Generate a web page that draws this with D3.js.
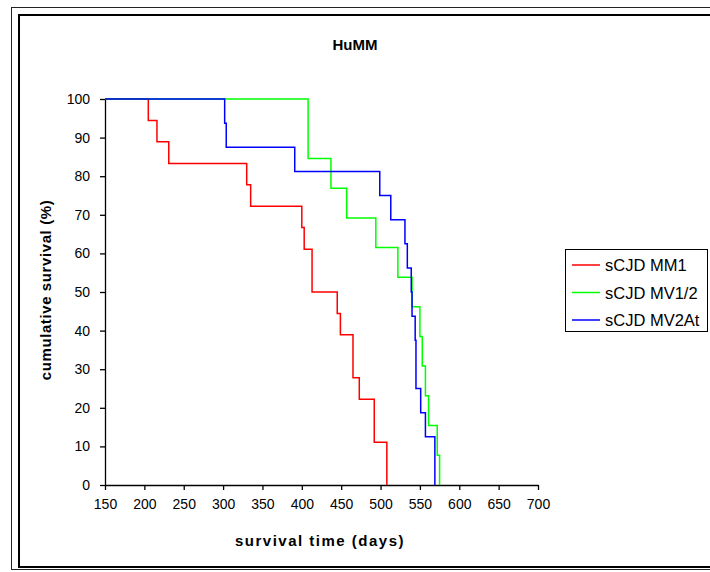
<!DOCTYPE html>
<html>
<head>
<meta charset="utf-8">
<script src="https://cdn.jsdelivr.net/npm/d3@7"></script>
<style>
  body { margin: 0; background: #fff; }
  svg text { font-family: "Liberation Sans", Arial, sans-serif; fill: #000; }
</style>
</head>
<body>
<div id="chart"></div>
<script>
const width = 710;
const height = 572;

// Kaplan-Meier steps: [day, cumulative survival %]
const mm1 = [[150, 100], [205, 94.4], [216, 88.9], [231, 83.3], [330, 77.8], [335, 72.2],
  [400, 66.7], [403, 61.1], [413, 50.0], [445, 44.4], [449, 38.9], [465, 27.8],
  [473, 22.2], [492, 11.1], [508, 0]];
const mv12 = [[150, 100], [408, 84.6], [437, 76.9], [457, 69.2], [494, 61.5], [522, 53.8],
  [540, 46.2], [550, 38.5], [553, 30.8], [557, 23.1], [561, 15.4], [572, 7.7], [575, 0]];
const mv2at = [[150, 100], [302, 93.75], [304, 87.5], [391, 81.25], [499, 75], [513, 68.75],
  [531, 62.5], [534, 56.25], [539, 50], [540, 43.75], [544, 37.5], [545, 25],
  [551, 18.75], [557, 12.5], [569, 0]];

const seriesNames = ["sCJD MM1", "sCJD MV1/2", "sCJD MV2At"];
const seriesColors = ["#ff0000", "#00ff00", "#0000ff"];
const seriesData = [mm1, mv12, mv2at];

const xTicks = [150, 200, 250, 300, 350, 400, 450, 500, 550, 600, 650, 700];
const yTicks = [0, 10, 20, 30, 40, 50, 60, 70, 80, 90, 100];

const svg = d3.select("#chart")
    .append("svg")
    .attr("width", width)
    .attr("height", height);

// double frame
svg.append("rect")
    .attr("x", 11.5).attr("y", 7.5)
    .attr("width", 720).attr("height", 562)
    .attr("fill", "none").attr("stroke", "#222").attr("stroke-width", 1);
svg.append("rect")
    .attr("x", 19).attr("y", 15)
    .attr("width", 720).attr("height", 552)
    .attr("fill", "none").attr("stroke", "#000").attr("stroke-width", 2);

const x = d3.scaleLinear().domain([150, 700]).range([105, 538]);
const y = d3.scaleLinear().domain([0, 100]).range([485, 99]);

const xAxis = svg.append("g")
    .attr("transform", `translate(0,${y(0)})`)
    .call(d3.axisBottom(x).tickValues(xTicks).tickSize(5).tickSizeOuter(0).tickPadding(9));
const yAxis = svg.append("g")
    .attr("transform", `translate(${x(150)},0)`)
    .call(d3.axisLeft(y).tickValues(yTicks).tickSize(5).tickSizeOuter(0).tickPadding(10));

[xAxis, yAxis].forEach(g => {
    g.select(".domain").attr("stroke", "#000").attr("stroke-width", 1.3);
    g.selectAll(".tick line").attr("stroke", "#000").attr("stroke-width", 1.3);
    g.selectAll(".tick text")
        .attr("font-family", "Liberation Sans, Arial, sans-serif")
        .attr("font-size", 14)
        .attr("fill", "#000");
});

const line = d3.line()
    .x(d => x(d[0]))
    .y(d => y(d[1]))
    .curve(d3.curveStepAfter);

seriesData.forEach((data, i) => {
    svg.append("path")
        .datum(data)
        .attr("fill", "none")
        .attr("stroke", seriesColors[i])
        .attr("stroke-width", 1.5)
        .attr("d", line);
});

svg.append("text")
    .attr("x", 355).attr("y", 50)
    .attr("text-anchor", "middle")
    .attr("font-weight", "bold")
    .attr("font-size", 15)
    .text("HuMM");

svg.append("text")
    .attr("x", 320).attr("y", 546)
    .attr("text-anchor", "middle")
    .attr("font-weight", "bold")
    .attr("font-size", 15)
    .attr("letter-spacing", 1.5)
    .text("survival time (days)");

svg.append("text")
    .attr("transform", "translate(51,290) rotate(-90)")
    .attr("text-anchor", "middle")
    .attr("font-weight", "bold")
    .attr("font-size", 15)
    .attr("letter-spacing", 0.6)
    .text("cumulative survival (%)");

// legend
const legend = svg.append("g");
legend.append("rect")
    .attr("x", 565.5).attr("y", 249.5)
    .attr("width", 142).attr("height", 82)
    .attr("fill", "#fff").attr("stroke", "#000").attr("stroke-width", 1);

seriesNames.forEach((name, i) => {
    const ly = 265 + i * 27.5;
    legend.append("line")
        .attr("x1", 572).attr("x2", 600)
        .attr("y1", ly).attr("y2", ly)
        .attr("stroke", seriesColors[i]).attr("stroke-width", 1.5);
    legend.append("text")
        .attr("x", 605).attr("y", ly + 6)
        .attr("font-size", 16.5)
        .text(name);
});
</script>
</body>
</html>
